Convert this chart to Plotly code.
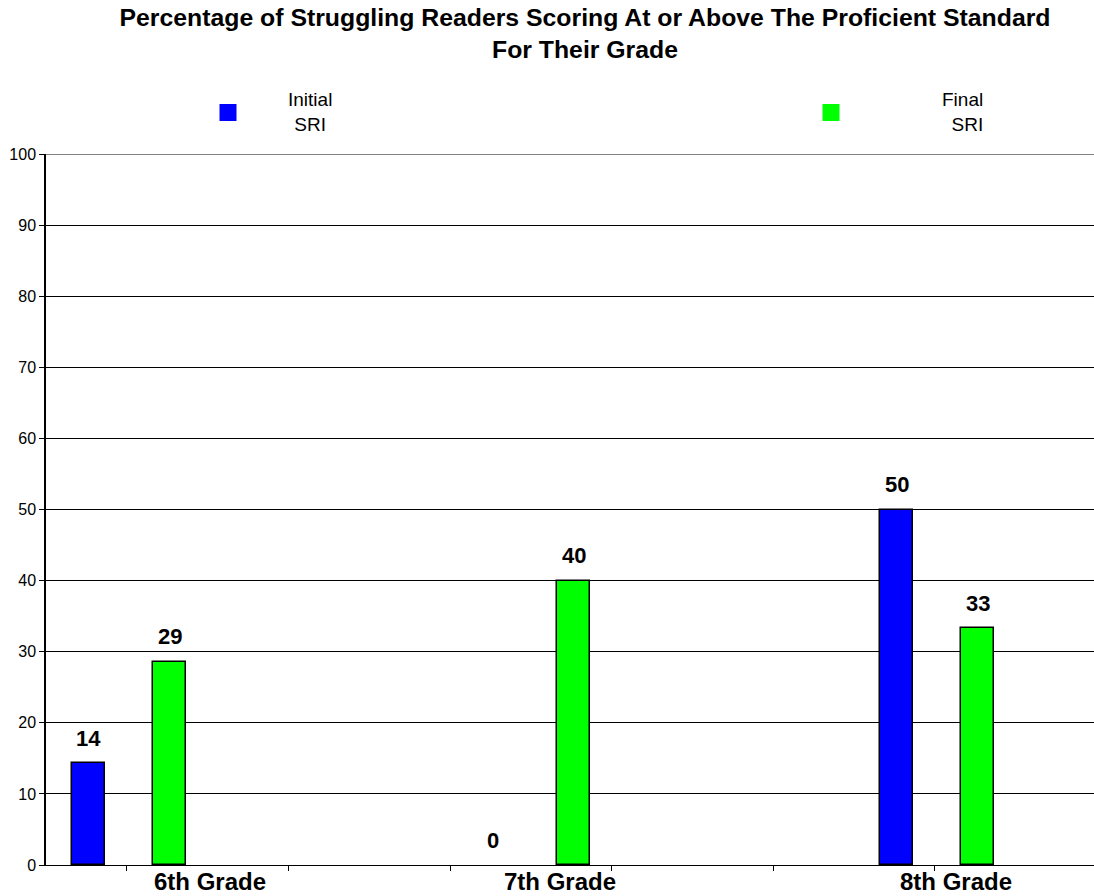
import plotly.graph_objects as go

# Chart data
grades = ["6th Grade", "7th Grade", "8th Grade"]
initial_sri = [14.3, 0, 50.0]
final_sri = [28.6, 40.0, 33.3]
series_names = ["Initial<br>SRI", "Final<br>SRI"]
series_colors = ["#0000FF", "#00FF00"]

# Category slots along the x axis: each grade takes a block of 5 slots,
# the two series occupy the first two slots of the block.
SLOTS_PER_GRADE = 5
BAR_WIDTH = 0.41
SLOT_SHIFT = 0.53  # bar centre inside its slot
SLOT_PX = 80.8

# Axis label positions (in slot units) for the grade names
grade_label_pos = [2.03, 6.36, 11.26]

font_family = "Liberation Sans, Arial, sans-serif"
W, H = 1094, 896
PLOT_L, PLOT_T, PLOT_B = 46, 154, 865
pw, ph = W - PLOT_L, PLOT_B - PLOT_T

fig = go.Figure()

annotations = []
for s, (vals, color, name) in enumerate(zip([initial_sri, final_sri], series_colors, series_names)):
    xs = [SLOTS_PER_GRADE * i + s + SLOT_SHIFT for i in range(len(grades))]
    fig.add_trace(go.Bar(
        x=xs, y=vals, width=BAR_WIDTH, name=name.replace("<br>", " "),
        marker=dict(color=color,
                    line=dict(color="black", width=[1.5 if v > 0 else 0 for v in vals])),
        showlegend=False,
    ))
    for x, v in zip(xs, vals):
        annotations.append(dict(
            x=x, y=v, xref="x", yref="y", text=f"<b>{round(v)}</b>",
            showarrow=False, yshift=25, yanchor="middle",
            font=dict(size=22, color="black", family=font_family),
        ))

# Grade names under the axis
for g, pos in zip(grades, grade_label_pos):
    annotations.append(dict(
        x=pos, y=-(881 - PLOT_B) / ph, xref="x", yref="paper", text=f"<b>{g}</b>",
        showarrow=False, xanchor="center", yanchor="middle",
        font=dict(size=24, color="black", family=font_family),
    ))

# Legend: coloured squares with two-line labels
legend_items = [
    dict(sq_x=228, text_x=310, align="center", xanchor="center"),
    dict(sq_x=831, text_x=985, align="right", xanchor="right"),
]
for item, name, color in zip(legend_items, series_names, series_colors):
    fig.add_shape(
        type="rect", xref="paper", yref="paper",
        x0=(item["sq_x"] - 8.5 - PLOT_L) / pw, x1=(item["sq_x"] + 8.5 - PLOT_L) / pw,
        y0=(PLOT_B - 121) / ph, y1=(PLOT_B - 104) / ph,
        fillcolor=color, line=dict(width=0),
    )
    annotations.append(dict(
        x=(item["text_x"] - PLOT_L) / pw, y=(PLOT_B - 112) / ph,
        xref="paper", yref="paper", text=name, showarrow=False,
        xanchor=item["xanchor"], yanchor="middle", align=item["align"],
        font=dict(size=19, color="black", family=font_family),
    ))

# top border of the plot area at 100
fig.add_shape(type="line", xref="paper", yref="y", x0=0, x1=1, y0=100, y1=100,
              line=dict(color="black", width=1))

fig.update_layout(
    width=W, height=H,
    margin=dict(l=PLOT_L, r=0, t=PLOT_T, b=H - PLOT_B, autoexpand=False),
    paper_bgcolor="white", plot_bgcolor="white",
    title=dict(
        text="<b>Percentage of Struggling Readers Scoring At or Above The Proficient Standard<br>For Their Grade</b>",
        x=585 / W, xanchor="center", xref="container",
        y=1 - 26 / H, yanchor="middle", yref="container",
        font=dict(size=24.8, color="black", family=font_family),
    ),
    annotations=annotations,
    bargap=0,
)

fig.update_xaxes(
    range=[0, pw / SLOT_PX], automargin=False,
    showticklabels=False, ticks="",
    showgrid=False, zeroline=False,
    showline=True, linecolor="black", linewidth=1,
    minor=dict(tick0=0, dtick=1, ticks="outside", ticklen=5, tickcolor="black", showgrid=False),
)

fig.update_yaxes(
    range=[0, 100], dtick=10, tick0=0, automargin=False,
    ticks="outside", ticklen=5, tickcolor="black",
    tickfont=dict(size=16, color="black", family=font_family),
    showgrid=True, gridcolor="black", gridwidth=1,
    showline=True, linecolor="black", linewidth=1.5,
    zeroline=False,
)

fig.write_html("out.html")
